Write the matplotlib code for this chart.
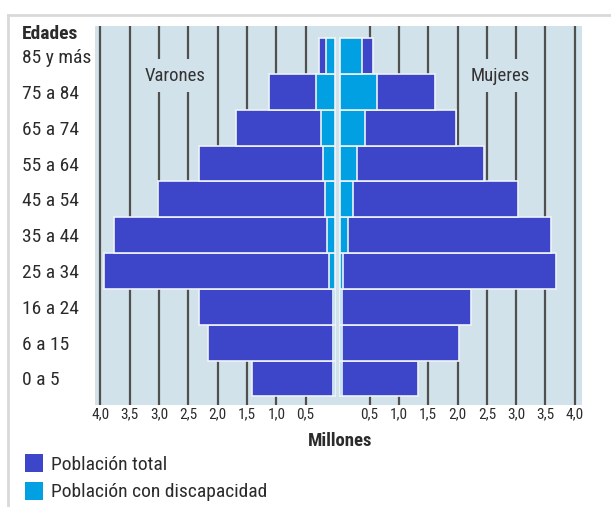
import matplotlib
matplotlib.use("Agg")
import matplotlib.pyplot as plt
from matplotlib.patches import Patch
from matplotlib.lines import Line2D

# ---- data (millions) ordered from youngest to oldest ----
age_groups = ["0 a 5", "6 a 15", "16 a 24", "25 a 34", "35 a 44",
              "45 a 54", "55 a 64", "65 a 74", "75 a 84", "85 y más"]
male_total = [1.42, 2.17, 2.32, 3.94, 3.77, 3.02, 2.32, 1.69, 1.13, 0.27]
male_disab = [0.035, 0.04, 0.04, 0.10, 0.13, 0.17, 0.20, 0.24, 0.32, 0.15]
female_total = [1.33, 2.03, 2.23, 3.68, 3.60, 3.03, 2.45, 1.97, 1.61, 0.56]
female_disab = [0.03, 0.03, 0.03, 0.05, 0.13, 0.22, 0.29, 0.42, 0.63, 0.37]
tick_values = [0.5, 1.0, 1.5, 2.0, 2.5, 3.0, 3.5, 4.0]
tick_labels = ["0,5", "1,0", "1,5", "2,0", "2,5", "3,0", "3,5", "4,0"]

FONT = ["Liberation Sans Narrow", "Roboto Condensed", "DejaVu Sans"]
plt.rcParams["font.family"] = FONT

DARK = "#3d45c8"
LIGHT = "#00a0e3"
PANEL = "#d2e2eb"
GRID = "#505050"
TXT = "#2b2b2b"
EDGE = "#eef3f8"

gap = 0.047  # half of the central gap

fig = plt.figure(figsize=(6.11, 5.07), dpi=100)
ax = fig.add_axes([95/611, 1-405/507, (582-95)/611, (405-26)/507])
ax.set_facecolor(PANEL)
for s in ax.spines.values():
    s.set_visible(False)

y = list(range(len(age_groups)))

# gridlines
for v in tick_values:
    ax.axvline(-(gap + v), color=GRID, lw=1.6, zorder=1)
    ax.axvline(gap + v, color=GRID, lw=1.6, zorder=1)

# total population bars
ax.barh(y, male_total, left=[-(gap + m) for m in male_total], height=1.0,
        color=DARK, edgecolor=EDGE, linewidth=1.2, zorder=2)
ax.barh(y, female_total, left=gap, height=1.0,
        color=DARK, edgecolor=EDGE, linewidth=1.2, zorder=2)
# disability bars
ax.barh(y, male_disab, left=[-(gap + m) for m in male_disab], height=1.0,
        color=LIGHT, edgecolor=EDGE, linewidth=1.2, zorder=3)
ax.barh(y, female_disab, left=gap, height=1.0,
        color=LIGHT, edgecolor=EDGE, linewidth=1.2, zorder=3)

ax.set_xlim(-4.14, 4.17)
ax.set_ylim(-0.74, 9.84)

xt = [-(gap + v) for v in tick_values] + [gap + v for v in tick_values]
xl = tick_labels + tick_labels
ax.set_xticks(xt)
ax.set_xticklabels(xl, fontsize=11, color=TXT)
ax.tick_params(axis="x", length=0, pad=2)

ax.set_yticks(y)
ax.set_yticklabels(age_groups, fontsize=14, color=TXT, ha="left")
ax.tick_params(axis="y", length=0, pad=52.5)

# gender labels
box = dict(boxstyle="square,pad=0.4", facecolor=PANEL, edgecolor="none")
ax.text(-(gap + 2.72), 8.45, "Varones", fontsize=13.5, color="#333333",
        ha="center", va="center", bbox=box, zorder=5)
ax.text(gap + 2.72, 8.45, "Mujeres", fontsize=13.5, color="#333333",
        ha="center", va="center", bbox=box, zorder=5)

fig.text(22/611, 1-34/507, "Edades", fontsize=14, fontweight="bold",
         color=TXT, ha="left", va="center")
fig.text(340/611, 1-441/507, "Millones", fontsize=13.5, fontweight="bold",
         color=TXT, ha="center", va="center")

handles = [Patch(facecolor=DARK, edgecolor="none"),
           Patch(facecolor=LIGHT, edgecolor="none")]
fig.legend(handles, ["Población total", "Población con discapacidad"],
           loc="upper left", bbox_to_anchor=(25/611, 1-454/507),
           frameon=False, fontsize=14, handlelength=0.95, handleheight=1.05,
           handletextpad=0.4, labelspacing=0.42, borderpad=0,
           borderaxespad=0, labelcolor=TXT)

# light frame lines (top and left)
fig.add_artist(Line2D([8/611, 1], [1-14.5/507, 1-14.5/507],
                      transform=fig.transFigure, color="#d9d9d9", lw=2))
fig.add_artist(Line2D([8/611, 8/611], [0, 1-14.5/507],
                      transform=fig.transFigure, color="#d9d9d9", lw=2))

fig.savefig("out.png", dpi=100, facecolor="white")
